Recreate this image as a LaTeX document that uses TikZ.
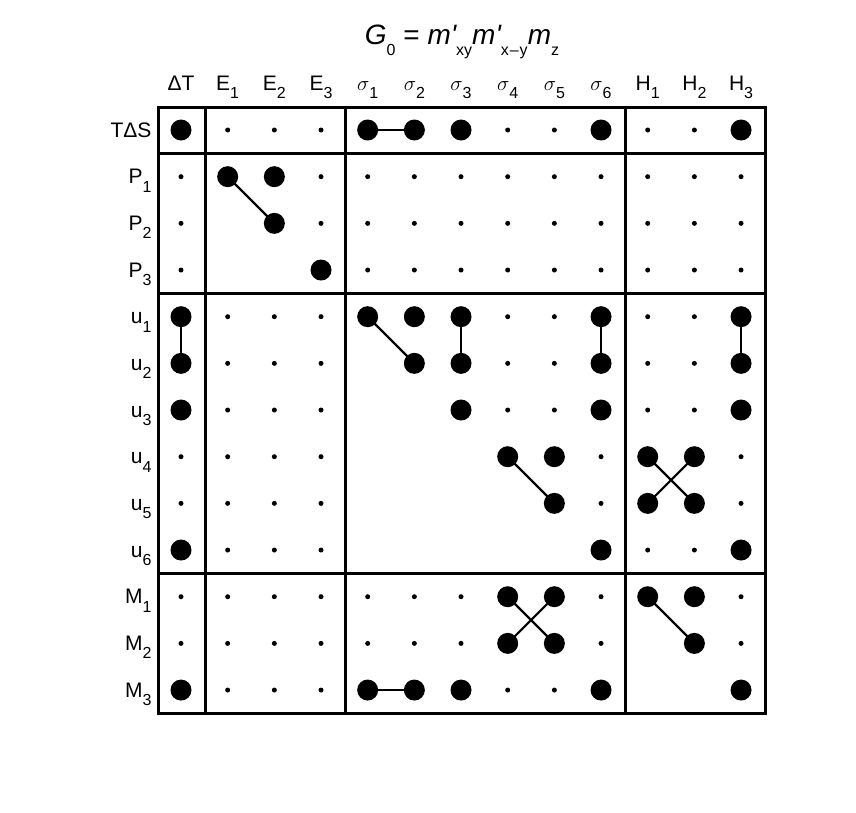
\documentclass[tikz,border=0pt]{standalone}
\usepackage{fontspec}
\setmainfont{Liberation Sans}
\newcommand{\lsub}[2]{#1\raisebox{-0.4em}{\fontsize{16}{16}\selectfont\upshape #2}}
\begin{document}
\begin{tikzpicture}[x=1pt,y=-1pt,
  big/.style={circle,fill=black,inner sep=0pt,minimum size=21pt},
  sml/.style={circle,fill=black,inner sep=0pt,minimum size=5pt},
  lbl/.style={font=\fontsize{21}{23}\selectfont},
  frame/.style={line width=3pt},
  conn/.style={line width=2.2pt}]
\useasboundingbox (0,0) rectangle (856,812);
\node[font=\fontsize{28}{30}\selectfont] (title) at (462,42) {\itshape\lsub{G}{0}\upshape{} = \itshape\lsub{m\textquotesingle}{xy}\lsub{m\textquotesingle}{x\hspace{1pt}–\hspace{1pt}y}\lsub{m}{z}};
% column headers
\foreach \t [count=\c] in {ΔT,\lsub{E}{1},\lsub{E}{2},\lsub{E}{3},\lsub{$\sigma$}{1},\lsub{$\sigma$}{2},\lsub{$\sigma$}{3},\lsub{$\sigma$}{4},\lsub{$\sigma$}{5},\lsub{$\sigma$}{6},\lsub{H}{1},\lsub{H}{2},\lsub{H}{3}}
  \node[lbl,anchor=base] (h\c) at ({181+(\c-1)*46.67},90) {\t};
% row headers
\foreach \t [count=\r] in {TΔS,\lsub{P}{1},\lsub{P}{2},\lsub{P}{3},\lsub{u}{1},\lsub{u}{2},\lsub{u}{3},\lsub{u}{4},\lsub{u}{5},\lsub{u}{6},\lsub{M}{1},\lsub{M}{2},\lsub{M}{3}}
  \node[lbl,anchor=base east] (r\r) at (155,{137+(\r-1)*46.67}) {\t};
% dots
\foreach \row [count=\r] in {
 {B,s,s,s,B,B,B,s,s,B,s,s,B},
 {s,B,B,s,s,s,s,s,s,s,s,s,s},
 {s,0,B,s,s,s,s,s,s,s,s,s,s},
 {s,0,0,B,s,s,s,s,s,s,s,s,s},
 {B,s,s,s,B,B,B,s,s,B,s,s,B},
 {B,s,s,s,0,B,B,s,s,B,s,s,B},
 {B,s,s,s,0,0,B,s,s,B,s,s,B},
 {s,s,s,s,0,0,0,B,B,s,B,B,s},
 {s,s,s,s,0,0,0,0,B,s,B,B,s},
 {B,s,s,s,0,0,0,0,0,B,s,s,B},
 {s,s,s,s,s,s,s,B,B,s,B,B,s},
 {s,s,s,s,s,s,s,B,B,s,0,B,s},
 {B,s,s,s,B,B,B,s,s,B,0,0,B}}{
  \foreach \v [count=\c] in \row {
    \if\v B \node[big] (n-\r-\c) at ({181+(\c-1)*46.67},{130+(\r-1)*46.67}) {};\fi
    \if\v s \node[sml] (n-\r-\c) at ({181+(\c-1)*46.67},{130+(\r-1)*46.67}) {};\fi
  }
}
% frame
\draw[frame] (158,107) rectangle (765,713);
\draw[frame] (205,107) -- (205,713);
\draw[frame] (345,107) -- (345,713);
\draw[frame] (625,107) -- (625,713);
\draw[frame] (158,153) -- (765,153);
\draw[frame] (158,293) -- (765,293);
\draw[frame] (158,573) -- (765,573);
% connectors
\draw[conn] (n-1-5) -- (n-1-6);
\draw[conn] (n-2-2.center) -- (n-3-3.center);
\draw[conn] (n-5-1.center) -- (n-6-1.center);
\draw[conn] (n-5-5.center) -- (n-6-6.center);
\draw[conn] (n-5-7.center) -- (n-6-7.center);
\draw[conn] (n-5-10.center) -- (n-6-10.center);
\draw[conn] (n-5-13.center) -- (n-6-13.center);
\draw[conn] (n-8-8.center) -- (n-9-9.center);
\draw[conn] (n-8-11.center) -- (n-9-12.center);
\draw[conn] (n-8-12.center) -- (n-9-11.center);
\draw[conn] (n-11-8.center) -- (n-12-9.center);
\draw[conn] (n-11-9.center) -- (n-12-8.center);
\draw[conn] (n-11-11.center) -- (n-12-12.center);
\draw[conn] (n-13-5) -- (n-13-6);
\end{tikzpicture}
\end{document}
